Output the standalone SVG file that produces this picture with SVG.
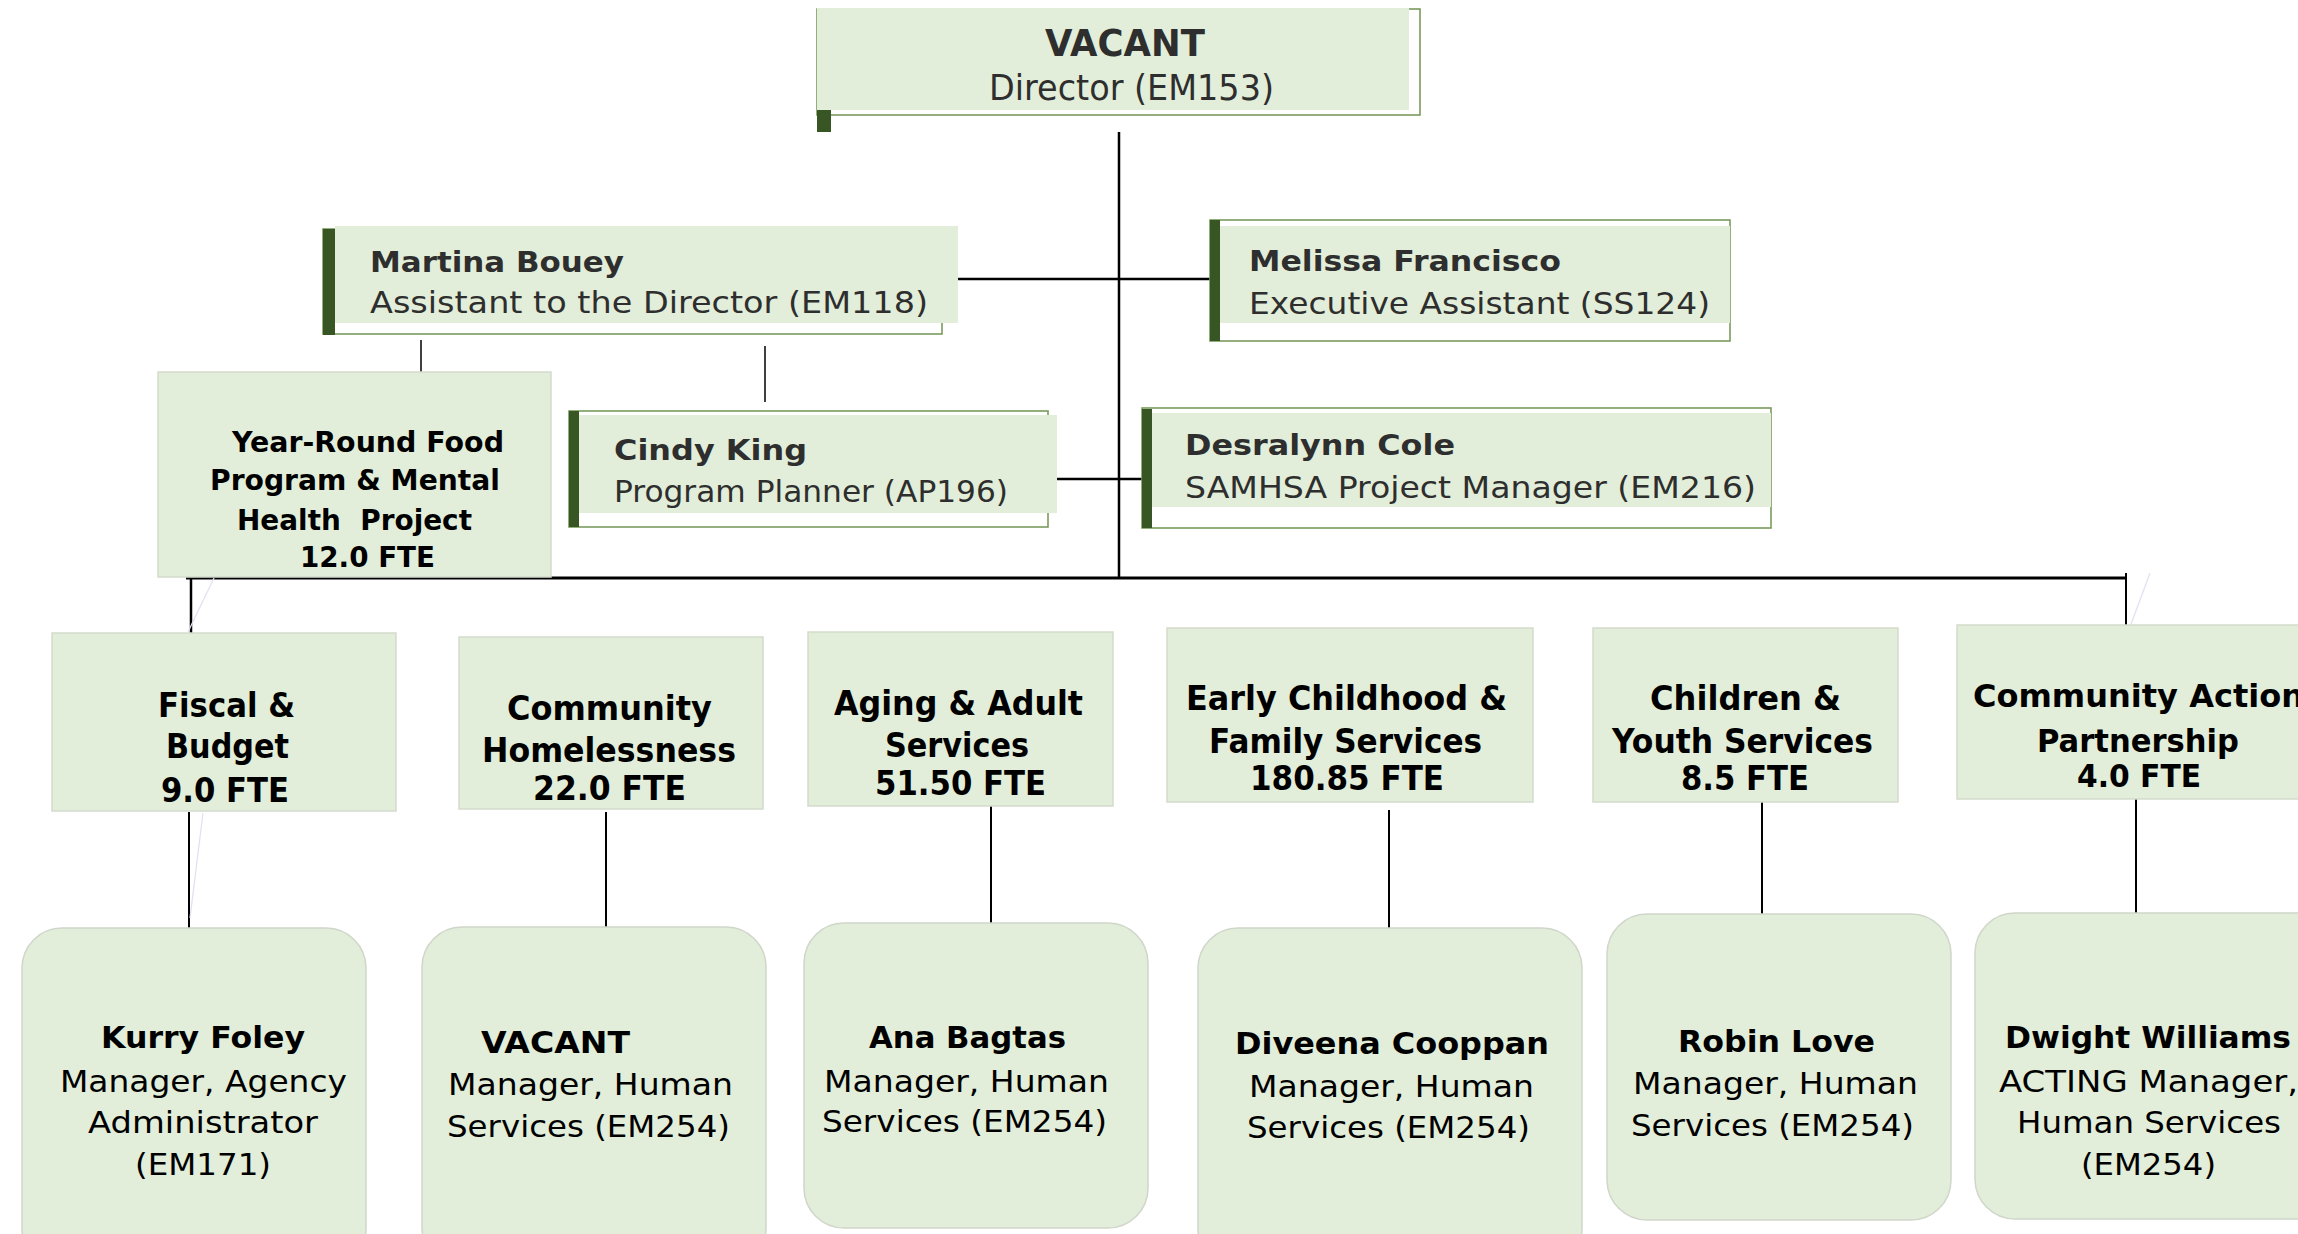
<svg xmlns="http://www.w3.org/2000/svg" width="2298" height="1234" viewBox="0 0 2298 1234">
<style>
.bg{fill:#ffffff}
.fill{fill:#e2eed9}
.outl{fill:#ffffff;stroke:#7b9a5e;stroke-width:1.6}
.bar{fill:#375623}
.dept{fill:#e2eed9;stroke:#d3dbcc;stroke-width:1.5}
.mgr{fill:#e2eed9;stroke:#d0d6ca;stroke-width:1.5}
.ln{stroke:#000;fill:none}
.faint{stroke:#e2e2f4;stroke-width:1.3;fill:none}
text{font-family:"DejaVu Sans","Liberation Sans",sans-serif}
.tb{font-weight:bold;fill:#2e2e2e}
.tr{fill:#2e2e2e}
.kb{font-weight:bold;fill:#000}
.kr{fill:#000}
</style>
<rect class="bg" x="0" y="0" width="2298" height="1234"/>

<g id="connectors">
<line class="ln" x1="1119" y1="132" x2="1119" y2="579" stroke-width="2.5"/>
<line class="ln" x1="955" y1="279" x2="1210" y2="279" stroke-width="2.5"/>
<line class="ln" x1="1057" y1="479" x2="1142" y2="479" stroke-width="2.5"/>
<line class="ln" x1="186" y1="578" x2="2125" y2="578" stroke-width="3"/>
<line class="ln" x1="191" y1="578" x2="191" y2="637" stroke-width="2.5"/>
<line class="ln" x1="2126" y1="573" x2="2126" y2="631" stroke-width="2"/>
<line class="ln" x1="421" y1="340" x2="421" y2="373" stroke-width="1.5"/>
<line class="ln" x1="765" y1="346" x2="765" y2="402" stroke-width="1.5"/>
<line class="ln" x1="189" y1="812" x2="189" y2="928" stroke-width="2"/>
<line class="ln" x1="606" y1="812" x2="606" y2="927" stroke-width="2"/>
<line class="ln" x1="991" y1="806" x2="991" y2="923" stroke-width="2"/>
<line class="ln" x1="1389" y1="810" x2="1389" y2="928" stroke-width="2"/>
<line class="ln" x1="1762" y1="802" x2="1762" y2="914" stroke-width="2"/>
<line class="ln" x1="2136" y1="799" x2="2136" y2="913" stroke-width="2"/>
<polyline class="faint" points="214,578 188,632"/>
<polyline class="faint" points="192,636 214,641"/>
<polyline class="faint" points="203,813 190,918"/>
<polyline class="faint" points="2150,573 2130,627 2152,636"/>
</g>

<g id="director">
<rect class="outl" x="817" y="9" width="603" height="106"/>
<rect class="fill" x="817" y="8" width="592" height="102"/>
<rect class="bar" x="817" y="110" width="14" height="22"/>
<text class="tb" x="1045" y="56" font-size="37" textLength="160" lengthAdjust="spacingAndGlyphs">VACANT</text>
<text class="tr" x="989" y="100" font-size="36" textLength="285" lengthAdjust="spacingAndGlyphs">Director (EM153)</text>
</g>

<g id="martina">
<rect class="outl" x="323" y="229" width="619" height="105"/>
<rect class="fill" x="335" y="226" width="623" height="97"/>
<rect class="bar" x="323" y="229" width="12" height="106"/>
<text class="tb" x="370" y="272" font-size="29" textLength="254" lengthAdjust="spacingAndGlyphs">Martina Bouey</text>
<text class="tr" x="370" y="313" font-size="30" textLength="558" lengthAdjust="spacingAndGlyphs">Assistant to the Director (EM118)</text>
</g>

<g id="melissa">
<rect class="outl" x="1210" y="220" width="520" height="121"/>
<rect class="fill" x="1220" y="226" width="510" height="97"/>
<rect class="bar" x="1210" y="220" width="10" height="121"/>
<text class="tb" x="1249" y="271" font-size="29" textLength="312" lengthAdjust="spacingAndGlyphs">Melissa Francisco</text>
<text class="tr" x="1249" y="314" font-size="30" textLength="461" lengthAdjust="spacingAndGlyphs">Executive Assistant (SS124)</text>
</g>

<g id="cindy">
<rect class="outl" x="569" y="411" width="479" height="116"/>
<rect class="fill" x="579" y="415" width="478" height="98"/>
<rect class="bar" x="569" y="411" width="10" height="116"/>
<text class="tb" x="614" y="460" font-size="29" textLength="193" lengthAdjust="spacingAndGlyphs">Cindy King</text>
<text class="tr" x="614" y="502" font-size="30" textLength="394" lengthAdjust="spacingAndGlyphs">Program Planner (AP196)</text>
</g>

<g id="desralynn">
<rect class="outl" x="1142" y="408" width="629" height="120"/>
<rect class="fill" x="1152" y="413" width="619" height="94"/>
<rect class="bar" x="1142" y="409" width="10" height="119"/>
<text class="tb" x="1185" y="455" font-size="29" textLength="270" lengthAdjust="spacingAndGlyphs">Desralynn Cole</text>
<text class="tr" x="1185" y="498" font-size="30" textLength="571" lengthAdjust="spacingAndGlyphs">SAMHSA Project Manager (EM216)</text>
</g>

<g id="year-round">
<rect class="dept" x="158" y="372" width="393" height="205"/>
<text class="kb" x="232" y="452" font-size="29" textLength="272" lengthAdjust="spacingAndGlyphs">Year-Round Food</text>
<text class="kb" x="210" y="490" font-size="29" textLength="290" lengthAdjust="spacingAndGlyphs">Program &amp; Mental</text>
<text class="kb" x="237" y="530" font-size="29" textLength="235" lengthAdjust="spacingAndGlyphs" xml:space="preserve">Health  Project</text>
<text class="kb" x="300" y="567" font-size="29" textLength="135" lengthAdjust="spacingAndGlyphs">12.0 FTE</text>
</g>

<g id="fiscal">
<rect class="dept" x="52" y="633" width="344" height="178"/>
<text class="kb" x="158" y="717" font-size="34" textLength="137" lengthAdjust="spacingAndGlyphs">Fiscal &amp;</text>
<text class="kb" x="166" y="758" font-size="34" textLength="123" lengthAdjust="spacingAndGlyphs">Budget</text>
<text class="kb" x="161" y="802" font-size="34" textLength="128" lengthAdjust="spacingAndGlyphs">9.0 FTE</text>
</g>

<g id="homelessness">
<rect class="dept" x="459" y="637" width="304" height="172"/>
<text class="kb" x="507" y="720" font-size="34" textLength="205" lengthAdjust="spacingAndGlyphs">Community</text>
<text class="kb" x="482" y="762" font-size="34" textLength="254" lengthAdjust="spacingAndGlyphs">Homelessness</text>
<text class="kb" x="533" y="800" font-size="34" textLength="153" lengthAdjust="spacingAndGlyphs">22.0 FTE</text>
</g>

<g id="aging">
<rect class="dept" x="808" y="632" width="305" height="174"/>
<text class="kb" x="834" y="715" font-size="34" textLength="249" lengthAdjust="spacingAndGlyphs">Aging &amp; Adult</text>
<text class="kb" x="885" y="757" font-size="34" textLength="144" lengthAdjust="spacingAndGlyphs">Services</text>
<text class="kb" x="875" y="795" font-size="34" textLength="171" lengthAdjust="spacingAndGlyphs">51.50 FTE</text>
</g>

<g id="early-childhood">
<rect class="dept" x="1167" y="628" width="366" height="174"/>
<text class="kb" x="1186" y="710" font-size="34" textLength="321" lengthAdjust="spacingAndGlyphs">Early Childhood &amp;</text>
<text class="kb" x="1209" y="753" font-size="34" textLength="273" lengthAdjust="spacingAndGlyphs">Family Services</text>
<text class="kb" x="1250" y="790" font-size="34" textLength="194" lengthAdjust="spacingAndGlyphs">180.85 FTE</text>
</g>

<g id="children-youth">
<rect class="dept" x="1593" y="628" width="305" height="174"/>
<text class="kb" x="1650" y="710" font-size="34" textLength="191" lengthAdjust="spacingAndGlyphs">Children &amp;</text>
<text class="kb" x="1612" y="753" font-size="34" textLength="261" lengthAdjust="spacingAndGlyphs">Youth Services</text>
<text class="kb" x="1681" y="790" font-size="34" textLength="128" lengthAdjust="spacingAndGlyphs">8.5 FTE</text>
</g>

<g id="community-action">
<rect class="dept" x="1957" y="625" width="370" height="174"/>
<text class="kb" x="1973" y="707" font-size="32" textLength="331" lengthAdjust="spacingAndGlyphs">Community Action</text>
<text class="kb" x="2037" y="752" font-size="32" textLength="202" lengthAdjust="spacingAndGlyphs">Partnership</text>
<text class="kb" x="2077" y="787" font-size="32" textLength="124" lengthAdjust="spacingAndGlyphs">4.0 FTE</text>
</g>

<g id="kurry">
<rect class="mgr" x="22" y="928" width="344" height="340" rx="40" ry="40"/>
<text class="kb" x="101" y="1048" font-size="31" textLength="204" lengthAdjust="spacingAndGlyphs">Kurry Foley</text>
<text class="kr" x="60" y="1092" font-size="31" textLength="287" lengthAdjust="spacingAndGlyphs">Manager, Agency</text>
<text class="kr" x="88" y="1133" font-size="31" textLength="230" lengthAdjust="spacingAndGlyphs">Administrator</text>
<text class="kr" x="135" y="1175" font-size="31" textLength="136" lengthAdjust="spacingAndGlyphs">(EM171)</text>
</g>

<g id="vacant-manager">
<rect class="mgr" x="422" y="927" width="344" height="340" rx="40" ry="40"/>
<text class="kb" x="481" y="1053" font-size="31" textLength="149" lengthAdjust="spacingAndGlyphs">VACANT</text>
<text class="kr" x="448" y="1095" font-size="31" textLength="285" lengthAdjust="spacingAndGlyphs">Manager, Human</text>
<text class="kr" x="447" y="1137" font-size="31" textLength="283" lengthAdjust="spacingAndGlyphs">Services (EM254)</text>
</g>

<g id="ana">
<rect class="mgr" x="804" y="923" width="344" height="305" rx="40" ry="40"/>
<text class="kb" x="869" y="1048" font-size="31" textLength="197" lengthAdjust="spacingAndGlyphs">Ana Bagtas</text>
<text class="kr" x="824" y="1092" font-size="31" textLength="285" lengthAdjust="spacingAndGlyphs">Manager, Human</text>
<text class="kr" x="822" y="1132" font-size="31" textLength="285" lengthAdjust="spacingAndGlyphs">Services (EM254)</text>
</g>

<g id="diveena">
<rect class="mgr" x="1198" y="928" width="384" height="340" rx="40" ry="40"/>
<text class="kb" x="1235" y="1054" font-size="31" textLength="314" lengthAdjust="spacingAndGlyphs">Diveena Cooppan</text>
<text class="kr" x="1249" y="1097" font-size="31" textLength="285" lengthAdjust="spacingAndGlyphs">Manager, Human</text>
<text class="kr" x="1247" y="1138" font-size="31" textLength="283" lengthAdjust="spacingAndGlyphs">Services (EM254)</text>
</g>

<g id="robin">
<rect class="mgr" x="1607" y="914" width="344" height="306" rx="40" ry="40"/>
<text class="kb" x="1678" y="1052" font-size="31" textLength="197" lengthAdjust="spacingAndGlyphs">Robin Love</text>
<text class="kr" x="1633" y="1094" font-size="31" textLength="285" lengthAdjust="spacingAndGlyphs">Manager, Human</text>
<text class="kr" x="1631" y="1136" font-size="31" textLength="283" lengthAdjust="spacingAndGlyphs">Services (EM254)</text>
</g>

<g id="dwight">
<rect class="mgr" x="1975" y="913" width="360" height="306" rx="40" ry="40"/>
<text class="kb" x="2005" y="1048" font-size="31" textLength="286" lengthAdjust="spacingAndGlyphs">Dwight Williams</text>
<text class="kr" x="1999" y="1092" font-size="31" textLength="299" lengthAdjust="spacingAndGlyphs">ACTING Manager,</text>
<text class="kr" x="2017" y="1133" font-size="31" textLength="264" lengthAdjust="spacingAndGlyphs">Human Services</text>
<text class="kr" x="2081" y="1175" font-size="31" textLength="135" lengthAdjust="spacingAndGlyphs">(EM254)</text>
</g>
</svg>
